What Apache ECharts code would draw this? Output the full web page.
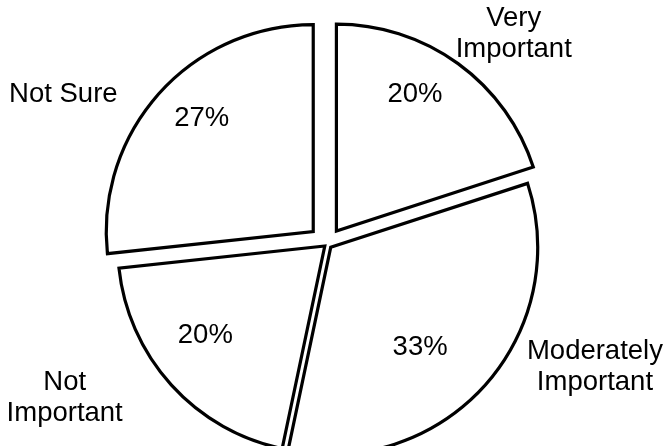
<!DOCTYPE html>
<html>
<head>
<meta charset="utf-8">
<script src="https://cdn.jsdelivr.net/npm/echarts@6/dist/echarts.min.js"></script>
<style>
html,body{margin:0;padding:0;background:#ffffff;}
#chart{width:670px;height:446px;}
</style>
</head>
<body>
<div id="chart"></div>
<script>
// ---- data ----
const categories = ['Very Important', 'Moderately Important', 'Not Important', 'Not Sure'];
const nameLabels = ['Very\nImportant', 'Moderately\nImportant', 'Not\nImportant', 'Not Sure'];
const shares = [20, 33.3, 20, 26.7];

// ---- layout ----
const CX = 327, CY = 244, R = 207;
const explode = [16, 5, 3, 18.5];
// [angle shift from slice bisector (deg), distance from slice centre (px)]
const pctLabelPolar = [[-6.2, 158], [6.2, 134], [5.4, 149], [3.5, 159]];
const nameLabelPolar = [[6, 265], [-17.6, 290], [11.9, 301], [-13.2, 285]];
const FONT = "'Liberation Sans', Arial, sans-serif";

const total = shares.reduce((a, b) => a + b, 0);
const bisectors = [];
let acc = 0;
shares.forEach(v => { bisectors.push((acc + v / 2) / total * 360); acc += v; });
const rad = d => d * Math.PI / 180;
const sliceCenters = bisectors.map((b, i) => [
  CX + explode[i] * Math.sin(rad(b)),
  CY - explode[i] * Math.cos(rad(b))
]);
function polarPos(i, polar) {
  const a = rad(bisectors[i] + polar[i][0]);
  const c = sliceCenters[i];
  return [c[0] + polar[i][1] * Math.sin(a), c[1] - polar[i][1] * Math.cos(a)];
}

const series = [];
categories.forEach((cat, k) => {
  series.push({
    type: 'pie',
    center: sliceCenters[k],
    radius: [0, R],
    startAngle: 90,
    clockwise: true,
    silent: true,
    animation: false,
    avoidLabelOverlap: false,
    emphasis: { disabled: true },
    labelLine: { show: false },
    label: {
      show: true,
      position: 'inside',
      color: '#000',
      fontSize: 27.5,
      fontFamily: FONT,
      formatter: p => Math.round(p.percent) + '%'
    },
    labelLayout: p => {
      const pos = polarPos(p.dataIndex, pctLabelPolar);
      return { x: pos[0], y: pos[1], align: 'center', verticalAlign: 'middle' };
    },
    data: shares.map((v, i) => ({
      name: categories[i],
      value: v,
      itemStyle: i === k
        ? { color: '#ffffff', borderColor: '#000000', borderWidth: 3.2, borderJoin: 'miter' }
        : { color: 'rgba(0,0,0,0)', borderWidth: 0 },
      label: { show: i === k }
    }))
  });
});

// name labels
series.push({
  type: 'pie',
  center: [CX, CY],
  radius: [0, R],
  startAngle: 90,
  clockwise: true,
  silent: true,
  animation: false,
  avoidLabelOverlap: false,
  emphasis: { disabled: true },
  itemStyle: { color: 'rgba(0,0,0,0)', borderWidth: 0 },
  labelLine: { show: false },
  label: {
    show: true,
    position: 'inside',
    color: '#000',
    fontSize: 27.5,
    lineHeight: 31,
    fontFamily: FONT,
    align: 'center',
    formatter: p => nameLabels[p.dataIndex]
  },
  labelLayout: p => {
    const pos = polarPos(p.dataIndex, nameLabelPolar);
    return { x: pos[0], y: pos[1], align: 'center', verticalAlign: 'middle' };
  },
  data: shares.map((v, i) => ({ name: categories[i], value: v }))
});

const chart = echarts.init(document.getElementById('chart'), null, { renderer: 'canvas' });
chart.setOption({ animation: false, backgroundColor: '#ffffff', series: series });
</script>
</body>
</html>
